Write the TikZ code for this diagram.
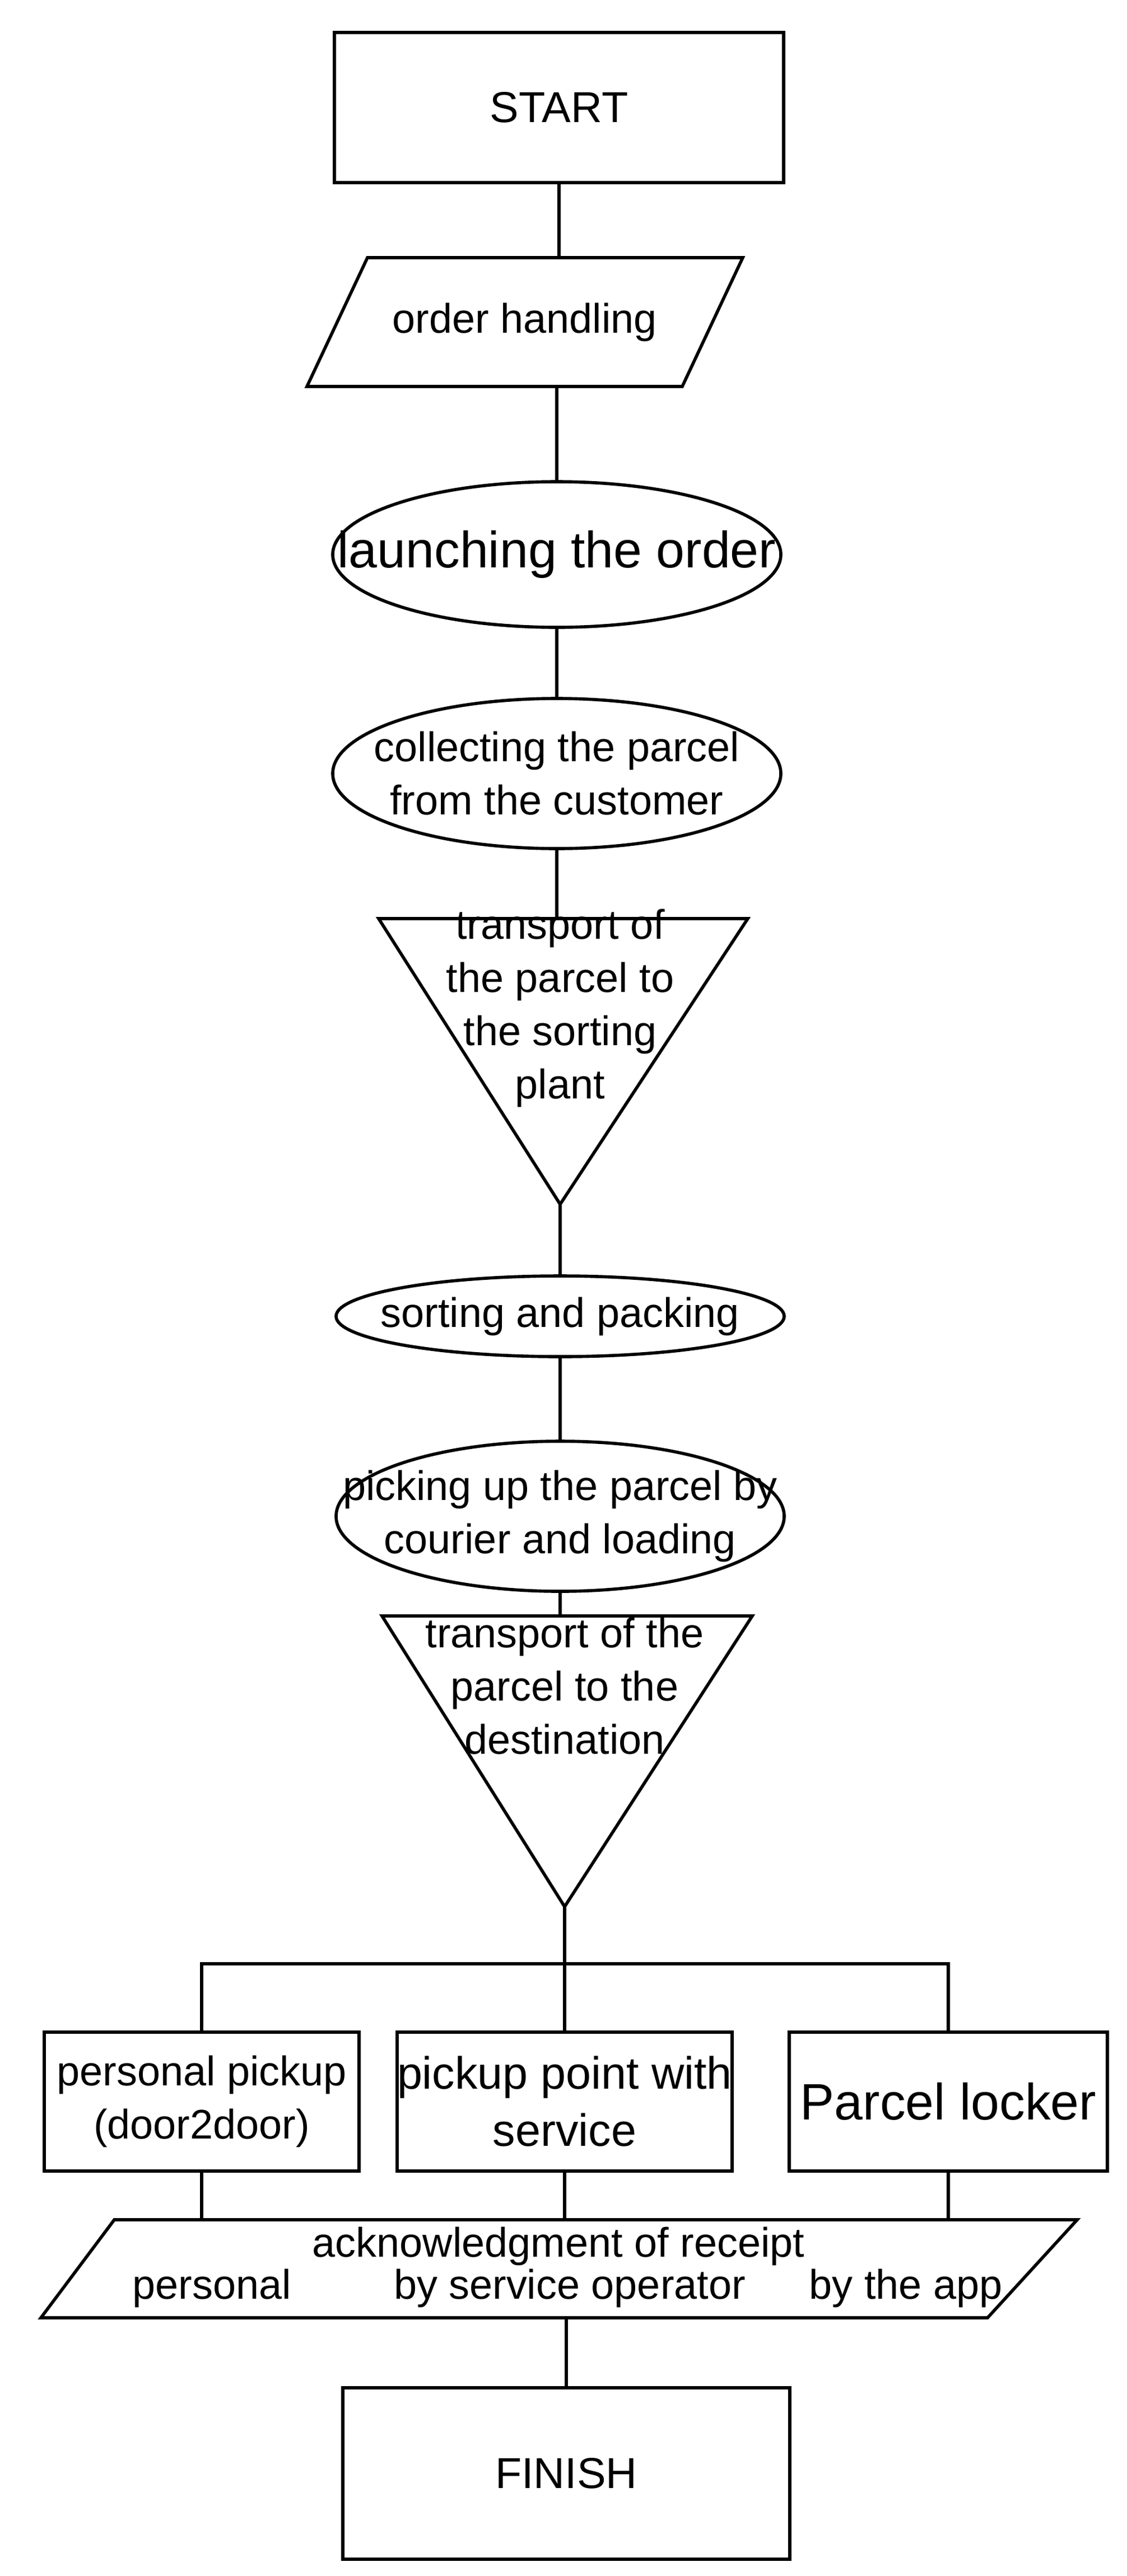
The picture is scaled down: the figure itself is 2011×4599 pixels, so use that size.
\documentclass[tikz,border=0pt]{standalone}
\usepackage{fontspec}
\setmainfont{Liberation Sans}
\usetikzlibrary{shapes.geometric}
\begin{document}
\begin{tikzpicture}[x=0.01cm,y=-0.01cm,line width=1.6pt,
  box/.style={draw,rectangle,inner sep=0pt,align=center},
  sm/.style={font=\fontsize{21}{27}\selectfont,align=center},
  bg/.style={font=\fontsize{26}{30}\selectfont,align=center}]
\useasboundingbox (0,0) rectangle (2011,4599);
\node[box,minimum width=8.02cm,minimum height=2.68cm,font=\fontsize{22}{26}\selectfont] (start) at (998,192) {START};
\draw (656,460) -- (1326,460) -- (1218,690) -- (548,690) -- cycle;
\node[sm] (oh) at (937,575) {order handling};
\coordinate (ohT) at (998,460); \coordinate (ohB) at (994,690);
% launching
\draw (994,990) ellipse [x radius=400, y radius=-130];
\node[bg] (launch) at (994,990) {launching the order};
\coordinate (lT) at (994,860); \coordinate (lB) at (994,1120);
% collecting
\draw (994,1381) ellipse [x radius=400, y radius=-134];
\node[sm] (collect) at (994,1381) {collecting the parcel\\from the customer};
\coordinate (cT) at (994,1247); \coordinate (cB) at (994,1515);
\draw (676,1640) -- (1335,1640) -- (1000,2150) -- cycle;
\coordinate (t1T) at (994,1640); \coordinate (t1B) at (1000,2150);
\node[sm] (t1) at (1000,1800) {transport of\\the parcel to\\the sorting\\plant};
% sorting
\draw (1000,2350) ellipse [x radius=400, y radius=-72];
\node[sm] (sort) at (1000,2350) {sorting and packing};
\coordinate (sT) at (1000,2278); \coordinate (sB) at (1000,2422);
% picking
\draw (1000,2707) ellipse [x radius=400, y radius=-134];
\node[sm] (pick) at (1000,2707) {picking up the parcel by\\courier and loading};
\coordinate (pkT) at (1000,2573); \coordinate (pkB) at (1000,2841);
\draw (682,2885) -- (1343,2885) -- (1008,3404) -- cycle;
\coordinate (t2T) at (1000,2885); \coordinate (t2B) at (1008,3404);
\node[sm] (t2) at (1008,3010) {transport of the\\parcel to the\\destination};
\coordinate (bus) at (1008,3506);
\coordinate (busL) at (360,3506); \coordinate (busR) at (1693,3506);
\node[box,minimum width=5.62cm,minimum height=2.48cm,sm] (b1) at (360,3752) {personal pickup\\(door2door)};
\node[box,minimum width=5.71cm,minimum height=2.48cm,font=\fontsize{23}{29}\selectfont] (b2) at (1008,3752) {pickup point with\\service};
\node[box,minimum width=5.68cm,minimum height=2.48cm,bg] (b3) at (1693,3752) {Parcel locker};
\draw (204,3963) -- (1923,3963) -- (1763,4138) -- (73,4138) -- cycle;
\node[sm] (ack) at (997,4010) {acknowledgment of receipt};
\node[sm] (a1) at (378,4085) {personal};
\node[sm] (a2) at (1017,4085) {by service operator};
\node[sm] (a3) at (1617,4085) {by the app};
\coordinate (p1) at (360,3963); \coordinate (p2) at (1008,3963); \coordinate (p3) at (1693,3963);
\coordinate (pB) at (1011,4138);
\node[box,minimum width=7.98cm,minimum height=3.06cm,font=\fontsize{22}{26}\selectfont] (fin) at (1011,4416) {FINISH};
\draw (start.south) -- (ohT);
\draw (ohB) -- (lT);
\draw (lB) -- (cT);
\draw (cB) -- (t1T);
\draw (t1B) -- (sT);
\draw (sB) -- (pkT);
\draw (pkB) -- (t2T);
\draw (t2B) -- (bus);
\draw (b1.north) -- (busL) -- (busR) -- (b3.north);
\draw (bus) -- (b2.north);
\draw (b1.south) -- (p1); \draw (b2.south) -- (p2); \draw (b3.south) -- (p3);
\draw (pB) -- (fin.north);
\end{tikzpicture}
\end{document}
